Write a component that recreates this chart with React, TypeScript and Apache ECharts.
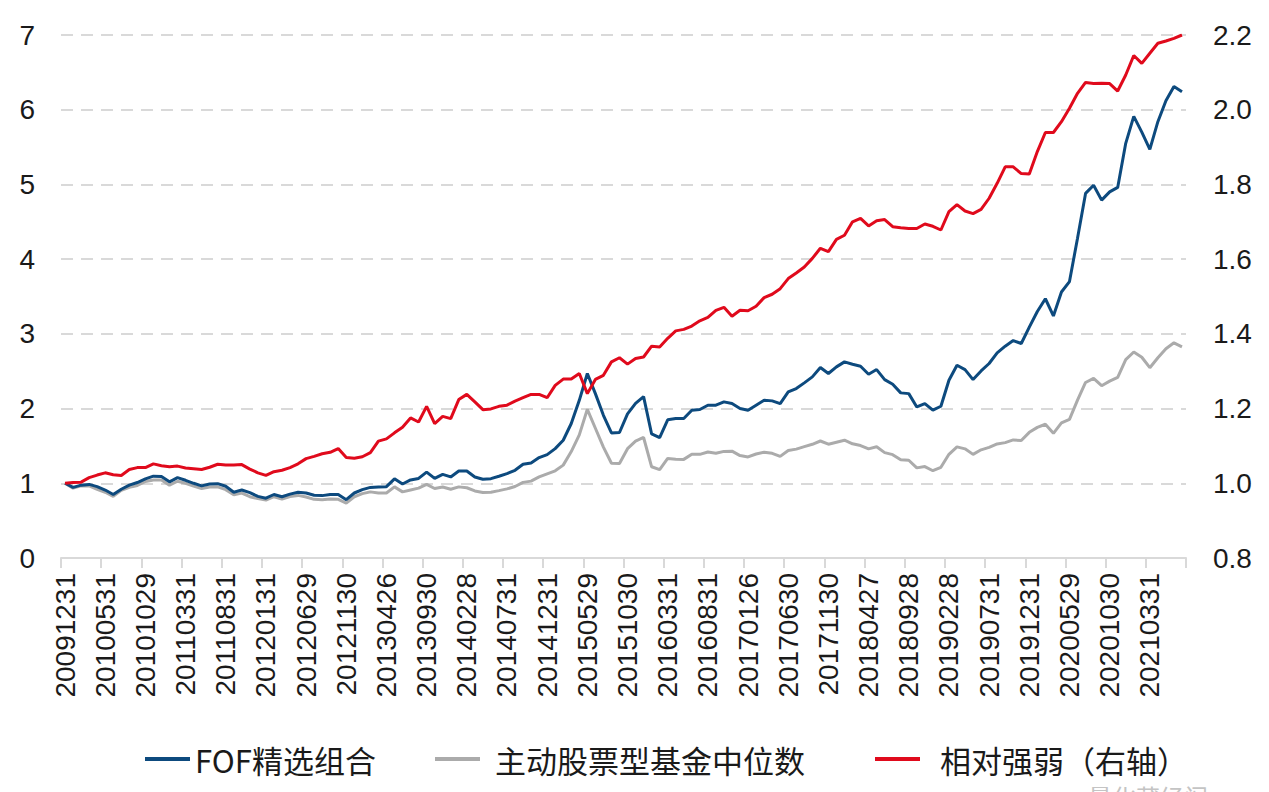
import React, { useEffect, useRef } from 'react';
import * as echarts from 'echarts';

const dates = [
  '20091231',
  '20100129', '20100226', '20100331', '20100430', '20100531', '20100630', '20100730', '20100831', '20100930', '20101029', '20101130', '20101231',
  '20110131', '20110228', '20110331', '20110429', '20110531', '20110630', '20110729', '20110831', '20110930', '20111031', '20111130', '20111230',
  '20120131', '20120229', '20120330', '20120427', '20120531', '20120629', '20120731', '20120831', '20120928', '20121031', '20121130', '20121231',
  '20130131', '20130228', '20130329', '20130426', '20130531', '20130628', '20130731', '20130830', '20130930', '20131031', '20131129', '20131231',
  '20140130', '20140228', '20140331', '20140430', '20140530', '20140630', '20140731', '20140829', '20140930', '20141031', '20141128', '20141231',
  '20150130', '20150227', '20150331', '20150430', '20150529', '20150630', '20150731', '20150831', '20150930', '20151030', '20151130', '20151231',
  '20160129', '20160229', '20160331', '20160429', '20160531', '20160630', '20160729', '20160831', '20160930', '20161031', '20161130', '20161230',
  '20170126', '20170228', '20170331', '20170428', '20170531', '20170630', '20170731', '20170831', '20170929', '20171031', '20171130', '20171229',
  '20180131', '20180228', '20180330', '20180427', '20180531', '20180629', '20180731', '20180831', '20180928', '20181031', '20181130', '20181228',
  '20190131', '20190228', '20190329', '20190430', '20190531', '20190628', '20190731', '20190830', '20190930', '20191031', '20191129', '20191231',
  '20200123', '20200228', '20200331', '20200430', '20200529', '20200630', '20200731', '20200831', '20200930', '20201030', '20201130', '20201231',
  '20210129', '20210226', '20210331', '20210430', '20210531', '20210630', '20210730',
];

const fofValues = [
  1.000, 0.945, 0.975, 0.985, 0.955, 0.910, 0.850, 0.920, 0.975, 1.010,
  1.060, 1.095, 1.090, 1.020, 1.075, 1.040, 1.000, 0.965, 0.990, 0.995,
  0.960, 0.880, 0.910, 0.875, 0.825, 0.800, 0.850, 0.820, 0.855, 0.880,
  0.870, 0.840, 0.835, 0.850, 0.850, 0.780, 0.870, 0.915, 0.945, 0.950,
  0.955, 1.060, 0.990, 1.045, 1.065, 1.150, 1.065, 1.120, 1.085, 1.165,
  1.165, 1.085, 1.054, 1.062, 1.094, 1.129, 1.174, 1.254, 1.272, 1.344,
  1.384, 1.464, 1.576, 1.800, 2.110, 2.470, 2.200, 1.910, 1.674, 1.680,
  1.930, 2.070, 2.160, 1.660, 1.610, 1.850, 1.866, 1.866, 1.978, 1.987,
  2.045, 2.045, 2.090, 2.067, 2.000, 1.978, 2.045, 2.112, 2.103, 2.067,
  2.223, 2.268, 2.344, 2.424, 2.550, 2.469, 2.558, 2.625, 2.594, 2.567,
  2.460, 2.522, 2.388, 2.326, 2.210, 2.200, 2.022, 2.067, 1.978, 2.031,
  2.379, 2.580, 2.522, 2.388, 2.504, 2.603, 2.746, 2.835, 2.910, 2.871,
  3.090, 3.300, 3.470, 3.240, 3.560, 3.700, 4.280, 4.880, 4.990, 4.790,
  4.900, 4.960, 5.550, 5.910, 5.700, 5.470, 5.840, 6.120, 6.310, 6.240,
];

const medianValues = [
  1.000, 0.935, 0.966, 0.965, 0.920, 0.880, 0.825, 0.905, 0.945, 0.970,
  1.025, 1.045, 1.045, 0.975, 1.027, 1.000, 0.962, 0.930, 0.950, 0.952,
  0.915, 0.845, 0.868, 0.820, 0.795, 0.775, 0.820, 0.790, 0.823, 0.838,
  0.817, 0.785, 0.780, 0.790, 0.785, 0.735, 0.820, 0.862, 0.885, 0.870,
  0.870, 0.952, 0.885, 0.910, 0.935, 0.985, 0.930, 0.950, 0.920, 0.952,
  0.940, 0.898, 0.878, 0.880, 0.902, 0.925, 0.957, 1.012, 1.029, 1.085,
  1.127, 1.167, 1.243, 1.425, 1.648, 1.990, 1.737, 1.484, 1.268, 1.265,
  1.463, 1.564, 1.613, 1.221, 1.182, 1.332, 1.321, 1.320, 1.390, 1.387,
  1.418, 1.402, 1.427, 1.430, 1.371, 1.353, 1.392, 1.415, 1.401, 1.360,
  1.439, 1.457, 1.490, 1.522, 1.566, 1.523, 1.550, 1.577, 1.528, 1.505,
  1.460, 1.488, 1.410, 1.383, 1.314, 1.308, 1.206, 1.224, 1.168, 1.214,
  1.388, 1.487, 1.461, 1.387, 1.448, 1.481, 1.527, 1.544, 1.580, 1.572,
  1.682, 1.748, 1.790, 1.669, 1.808, 1.856, 2.114, 2.349, 2.405, 2.306,
  2.367, 2.418, 2.655, 2.757, 2.687, 2.547, 2.681, 2.801, 2.880, 2.827,
];

const relativeValues = [
  1.000, 1.002, 1.003, 1.015, 1.022, 1.028, 1.023, 1.021, 1.037, 1.042,
  1.042, 1.052, 1.047, 1.044, 1.046, 1.041, 1.039, 1.037, 1.043, 1.051,
  1.049, 1.049, 1.050, 1.038, 1.028, 1.021, 1.031, 1.035, 1.042, 1.052,
  1.066, 1.072, 1.079, 1.083, 1.093, 1.069, 1.067, 1.071, 1.082, 1.113,
  1.119, 1.135, 1.150, 1.175, 1.164, 1.206, 1.160, 1.179, 1.173, 1.224,
  1.238, 1.218, 1.197, 1.199, 1.206, 1.209, 1.220, 1.229, 1.238, 1.238,
  1.229, 1.262, 1.279, 1.279, 1.294, 1.240, 1.278, 1.289, 1.325, 1.336,
  1.319, 1.334, 1.338, 1.367, 1.365, 1.388, 1.408, 1.412, 1.421, 1.435,
  1.444, 1.463, 1.471, 1.447, 1.463, 1.462, 1.474, 1.497, 1.506, 1.521,
  1.548, 1.563, 1.579, 1.602, 1.629, 1.620, 1.653, 1.664, 1.700, 1.709,
  1.689, 1.703, 1.706, 1.687, 1.684, 1.682, 1.682, 1.694, 1.688, 1.678,
  1.727, 1.746, 1.729, 1.722, 1.733, 1.763, 1.803, 1.847, 1.847, 1.829,
  1.828, 1.888, 1.939, 1.939, 1.968, 2.004, 2.044, 2.073, 2.070, 2.071,
  2.070, 2.050, 2.093, 2.145, 2.124, 2.151, 2.178, 2.184, 2.191, 2.200,
];

const seriesNames = ['FOF精选组合', '主动股票型基金中位数', '相对强弱（右轴）'];
const seriesColors = ['#0d4a7e', '#ababab', '#e00a1c'];

const NUM_FONT = "'Liberation Sans', Arial, sans-serif";
const CJK_FONT = "'Noto Sans CJK SC', 'Liberation Sans', sans-serif";

const legendLefts = [140, 430, 870];
const legendTextPads = [0, 10, 15];

export default function App() {
  const ref = useRef<HTMLDivElement>(null);

  useEffect(() => {
    if (!ref.current) return;
    const chart = echarts.init(ref.current, null, { renderer: 'svg' });
    chart.setOption({
      animation: false,
      backgroundColor: '#ffffff',
      grid: { left: 61, right: 83, top: 35, bottom: 234, containLabel: false },
      legend: seriesNames.map((name, i) => ({
        data: [name],
        left: legendLefts[i],
        top: 737,
        icon: 'rect',
        itemWidth: 45,
        itemHeight: 4,
        textStyle: {
          fontSize: 31,
          lineHeight: 34,
          color: '#1a1a1a',
          fontFamily: CJK_FONT,
          padding: [0, 0, 0, legendTextPads[i]],
        },
      })),
      xAxis: {
        type: 'category',
        data: dates,
        boundaryGap: true,
        axisLine: { show: true, lineStyle: { color: '#d9d9d9', width: 2 } },
        axisTick: { show: true, interval: 4, length: 10, lineStyle: { color: '#d9d9d9', width: 2 } },
        axisLabel: {
          interval: 4,
          rotate: 90,
          fontSize: 28,
          color: '#1a1a1a',
          fontFamily: NUM_FONT,
          margin: 15,
        },
        splitLine: { show: false },
      },
      yAxis: [
        {
          type: 'value',
          min: 0,
          max: 7,
          interval: 1,
          axisLine: { show: false },
          axisTick: { show: false },
          axisLabel: { fontSize: 28, color: '#1a1a1a', fontFamily: NUM_FONT, margin: 26 },
          splitLine: { show: true, lineStyle: { color: '#d9d9d9', width: 2, type: [12, 8] } },
        },
        {
          type: 'value',
          min: 0.8,
          max: 2.2,
          interval: 0.2,
          position: 'right',
          axisLine: { show: false },
          axisTick: { show: false },
          axisLabel: {
            fontSize: 28,
            color: '#1a1a1a',
            fontFamily: NUM_FONT,
            margin: 27,
            formatter: (v: number) => v.toFixed(1),
          },
          splitLine: { show: false },
        },
      ],
      series: [
        {
          name: seriesNames[0],
          type: 'line',
          data: fofValues,
          yAxisIndex: 0,
          symbol: 'none',
          showSymbol: false,
          lineStyle: { color: seriesColors[0], width: 3 },
          itemStyle: { color: seriesColors[0] },
          z: 3,
        },
        {
          name: seriesNames[1],
          type: 'line',
          data: medianValues,
          yAxisIndex: 0,
          symbol: 'none',
          showSymbol: false,
          lineStyle: { color: seriesColors[1], width: 3 },
          itemStyle: { color: seriesColors[1] },
          z: 2,
        },
        {
          name: seriesNames[2],
          type: 'line',
          data: relativeValues,
          yAxisIndex: 1,
          symbol: 'none',
          showSymbol: false,
          lineStyle: { color: seriesColors[2], width: 3 },
          itemStyle: { color: seriesColors[2] },
          z: 4,
        },
      ],
      graphic: [
        {
          type: 'text',
          left: 1088,
          top: 784,
          style: { text: '量化藏经阁', fontSize: 24, fill: '#c4c4c4', fontFamily: CJK_FONT },
          silent: true,
        },
      ],
    });
    return () => chart.dispose();
  }, []);

  return (
    <div
      ref={ref}
      style={{ position: 'absolute', left: 0, top: 0, width: 1269, height: 792, background: '#fff' }}
    />
  );
}
